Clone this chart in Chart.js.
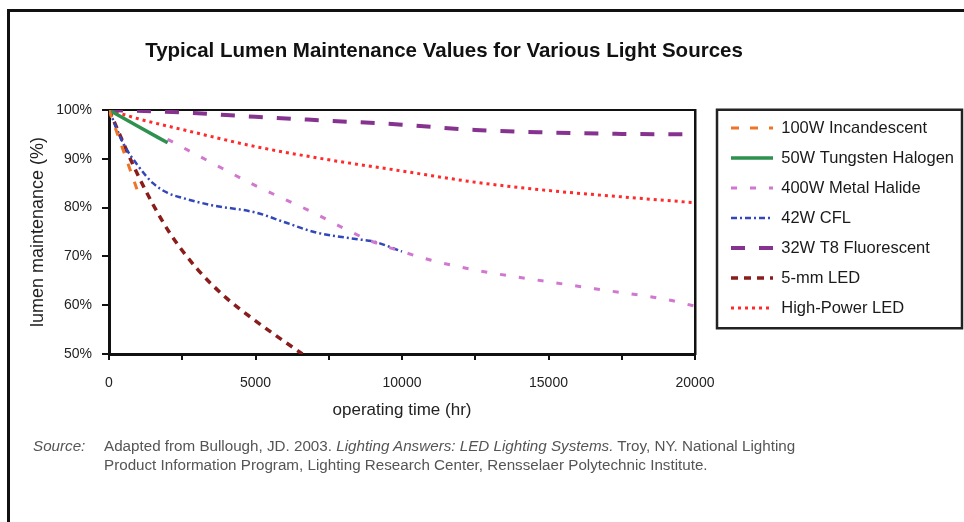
<!DOCTYPE html>
<html>
<head>
<meta charset="utf-8">
<script src="https://cdn.jsdelivr.net/npm/chart.js@4.4.1/dist/chart.umd.min.js"></script>
<style>
  html, body { margin: 0; padding: 0; background: #fff; }
  #wrap { position: relative; width: 964px; height: 522px; overflow: hidden; background: #fff; }
  #c { position: absolute; left: 0; top: 0; }
  .frameTop { position: absolute; left: 7px; top: 9px; width: 957px; height: 3px; background: #111; }
  .frameLeft { position: absolute; left: 7px; top: 9px; width: 3px; height: 513px; background: #111; }
  #title { position: absolute; left: 0; top: 38px; width: 888px; text-align: center;
    font: bold 20.5px/24px "Liberation Sans", Arial, sans-serif; color: #111; }
  #src { position: absolute; left: 33px; top: 436px; width: 925px;
    font: 15.2px/19px "Liberation Sans", Arial, sans-serif; color: #555; }
  #src .lab { position: absolute; left: 0; top: 0; font-style: italic; }
  #src .txt { position: absolute; left: 71px; top: 0; width: 840px; }
</style>
</head>
<body>
<div id="wrap">
  <canvas id="c" width="964" height="522"></canvas>
  <div class="frameTop"></div>
  <div class="frameLeft"></div>
  <div id="title">Typical Lumen Maintenance Values for Various Light Sources</div>
  <div id="src"><span class="lab">Source:</span><span class="txt">Adapted from Bullough, JD. 2003. <i>Lighting Answers: LED Lighting Systems.</i> Troy, NY. National Lighting<br>Product Information Program, Lighting Research Center, Rensselaer Polytechnic Institute.</span></div>
</div>
<script>
// ---- data (operating hours, lumen maintenance %) ----
const seriesLabels = ["100W Incandescent", "50W Tungsten Halogen", "400W Metal Halide", "42W CFL",
                      "32W T8 Fluorescent", "5-mm LED", "High-Power LED"];

const incandescentHours = [0, 500, 1000];
const incandescentValues = [100, 91.5, 83];

const halogenHours = [0, 1000, 2000];
const halogenValues = [100, 96.6, 93.3];

const metalHalideHours = [2000, 3500, 5000, 7000, 8000, 9000, 10000, 11000, 12500, 15000, 17000, 19000, 20000];
const metalHalideValues = [94, 89.2, 84.5, 78.9, 75.8, 73, 71, 69.2, 67.2, 64.8, 63, 61.2, 59.8];

const cflHours = [0, 500, 1000, 1500, 2000, 2500, 3500, 5000, 6000, 7000, 8500, 9000, 10000];
const cflValues = [100, 93, 88.5, 85, 83, 82, 80.5, 79, 77, 75, 73.5, 73.1, 71];

const t8Hours = [0, 2500, 5000, 7500, 10000, 12500, 15000, 17500, 20000];
const t8Values = [100, 99.5, 98.6, 97.8, 97, 95.9, 95.4, 95.1, 95];

const led5mmHours = [0, 1000, 2000, 3000, 4000, 5000, 6000, 6600];
const led5mmValues = [100, 86.5, 75.5, 67.5, 61.5, 56.8, 52.5, 50];

const hpLedHours = [0, 1000, 2500, 5000, 7500, 10000, 12500, 15000, 17500, 20000];
const hpLedValues = [100, 98.2, 96, 92.5, 89.8, 87.5, 85.2, 83.5, 82.2, 81];

const xTickValues = [0, 5000, 10000, 15000, 20000];
const yTickValues = [50, 60, 70, 80, 90, 100];

// ---- styles ----
const FONT = '"Liberation Sans", Arial, sans-serif';
const styles = [
  { color: '#f07428', width: 3,   dash: [8, 11] },
  { color: '#2e9150', width: 3.5, dash: [] },
  { color: '#d177cf', width: 3,   dash: [6, 13] },
  { color: '#3348b8', width: 2.5, dash: [6, 3, 2, 3] },
  { color: '#86338f', width: 4,   dash: [14, 14] },
  { color: '#8a1c1c', width: 3.5, dash: [7, 6] },
  { color: '#ff2a2a', width: 3,   dash: [3, 4] }
];

function pts(h, v) { return h.map((x, i) => ({ x: x, y: v[i] })); }
const seriesData = [
  pts(incandescentHours, incandescentValues),
  pts(halogenHours, halogenValues),
  pts(metalHalideHours, metalHalideValues),
  pts(cflHours, cflValues),
  pts(t8Hours, t8Values),
  pts(led5mmHours, led5mmValues),
  pts(hpLedHours, hpLedValues)
];

const datasets = seriesLabels.map((lab, i) => ({
  label: lab,
  data: seriesData[i],
  borderColor: styles[i].color,
  backgroundColor: styles[i].color,
  borderWidth: styles[i].width,
  borderDash: styles[i].dash,
  borderCapStyle: 'butt',
  pointRadius: 0,
  pointHoverRadius: 0,
  fill: false,
  cubicInterpolationMode: 'monotone'
}));

const legendBox = {
  id: 'legendBox',
  afterDraw(chart) {
    const lg = chart.legend;
    if (!lg || !lg.legendHitBoxes || !lg.legendHitBoxes.length) return;
    const hb = lg.legendHitBoxes;
    const first = hb[0], last = hb[hb.length - 1];
    const ctx = chart.ctx;
    ctx.save();
    ctx.strokeStyle = '#222';
    ctx.lineWidth = 2.5;
    ctx.setLineDash([]);
    const x0 = lg.left - 0.5, y0 = first.top - 10;
    const x1 = chart.width - 2, y1 = last.top + last.height + 12;
    ctx.strokeRect(x0, y0, x1 - x0, y1 - y0);
    ctx.restore();
  }
};

new Chart(document.getElementById('c'), {
  type: 'line',
  data: { datasets: datasets },
  plugins: [legendBox],
  options: {
    responsive: false,
    animation: false,
    devicePixelRatio: 1,
    layout: { padding: { left: 0, top: 0, right: 0, bottom: 0 } },
    plugins: {
      title: { display: false },
      tooltip: { enabled: false },
      legend: {
        position: 'right',
        align: 'start',
        maxWidth: 247.5,
        title: { display: true, text: ' ', font: { size: 10, family: FONT }, padding: { top: 94.25, bottom: 0 } },
        labels: {
          usePointStyle: true,
          pointStyleWidth: 42,
          padding: 13.5,
          color: '#1a1a1a',
          font: { size: 16.5, family: FONT },
          generateLabels: (chart) => chart.data.datasets.map((ds, i) => ({
            text: ds.label,
            fontColor: '#1a1a1a',
            strokeStyle: ds.borderColor,
            fillStyle: ds.borderColor,
            lineWidth: ds.borderWidth,
            lineDash: ds.borderDash,
            lineCap: 'butt',
            pointStyle: 'line',
            hidden: false,
            datasetIndex: i
          }))
        }
      }
    },
    scales: {
      x: {
        type: 'linear',
        position: 'bottom',
        min: 0, max: 20000,
        afterFit: (s) => { s.height = 168; },
        afterBuildTicks: (s) => {
          const t = [];
          for (let v = 0; v <= 20000; v += 2500) t.push({ value: v });
          s.ticks = t;
        },
        ticks: {
          color: '#222',
          font: { size: 14, family: FONT },
          padding: 14.6,
          maxRotation: 0,
          autoSkip: false,
          callback: (v) => xTickValues.includes(v) ? String(v) : ''
        },
        grid: { drawOnChartArea: false, drawTicks: true, tickLength: 6, color: '#111', lineWidth: 2 },
        border: { display: true, color: '#111', width: 3 },
        title: { display: true, text: 'operating time (hr)', color: '#222',
                 font: { size: 17, family: FONT }, padding: { top: 0, bottom: 101.8 } }
      },
      x2: {
        type: 'linear',
        position: 'top',
        min: 0, max: 20000,
        afterFit: (s) => { s.height = 110; },
        ticks: { display: false },
        grid: { drawOnChartArea: false, drawTicks: false },
        border: { display: true, color: '#111', width: 2 }
      },
      y: {
        type: 'linear',
        position: 'left',
        min: 50, max: 100,
        afterFit: (s) => { s.width = 109; },
        afterBuildTicks: (s) => { s.ticks = yTickValues.map(v => ({ value: v })); },
        ticks: {
          color: '#222',
          font: { size: 14, family: FONT },
          padding: 10,
          callback: (v) => v + '%'
        },
        grid: { drawOnChartArea: false, drawTicks: true, tickLength: 7, color: '#111', lineWidth: 2 },
        border: { display: true, color: '#111', width: 3 },
        title: { display: true, text: 'lumen maintenance (%)', color: '#222',
                 font: { size: 18, family: FONT }, padding: { top: 27.2, bottom: 0 } }
      },
      y2: {
        type: 'linear',
        position: 'right',
        min: 50, max: 100,
        afterFit: (s) => { s.width = 22.5; },
        ticks: { display: false },
        grid: { drawOnChartArea: false, drawTicks: false },
        border: { display: true, color: '#111', width: 2.5 }
      }
    }
  }
});
</script>
</body>
</html>
